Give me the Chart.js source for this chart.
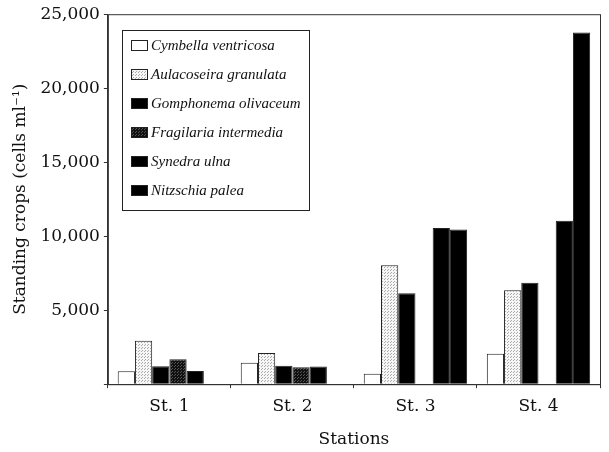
<!DOCTYPE html>
<html>
<head>
<meta charset="utf-8">
<script src="https://cdn.jsdelivr.net/npm/chart.js@4.4.0/dist/chart.umd.min.js"></script>
<style>
  html, body { margin: 0; padding: 0; background: #fff; }
  #wrap { width: 609px; height: 452px; }
</style>
</head>
<body>
<div id="wrap"><canvas id="myChart" width="609" height="452"></canvas></div>
<script>
const stations = ['St. 1', 'St. 2', 'St. 3', 'St. 4'];
const species = ['Cymbella ventricosa', 'Aulacoseira granulata', 'Gomphonema olivaceum',
    'Fragilaria intermedia', 'Synedra ulna', 'Nitzschia palea'];

const cymbella = [880, 1450, 700, 2050];
const aulacoseira = [2930, 2100, 8040, 6350];
const gomphonema = [1220, 1250, 6150, 6850];
const fragilaria = [1690, 1150, 0, 0];
const synedra = [900, 1200, 10550, 11050];
const nitzschia = [0, 0, 10450, 23760];

const yTicks = [5000, 10000, 15000, 20000, 25000];

const serif = '"DejaVu Serif", "Liberation Serif", serif';
const legendFont = 'italic 15px "Liberation Serif", serif';

// dotted fills like the printed halftone
function dots(bg, fg) {
    const c = document.createElement('canvas');
    c.width = 3; c.height = 3;
    const g = c.getContext('2d');
    g.fillStyle = bg;
    g.fillRect(0, 0, 3, 3);
    g.fillStyle = fg;
    g.fillRect(0, 0, 1, 1);
    g.fillRect(1, 2, 1, 1);
    return g.createPattern(c, 'repeat');
}

const fills = ['#ffffff', dots('#f6f6f6', '#aaa'), '#000000', dots('#111', '#555'), '#000000', '#000000'];
const series = [cymbella, aulacoseira, gomphonema, fragilaria, synedra, nitzschia];

const datasets = series.map((vals, i) => ({
    label: species[i],
    data: vals,
    backgroundColor: fills[i],
    borderColor: '#222',
    borderWidth: 1,
    barPercentage: 1.0,
    categoryPercentage: 0.84
}));

const frame = {
    id: 'frame',
    afterDraw(chart) {
        const a = chart.chartArea;
        const ctx = chart.ctx;
        ctx.save();
        ctx.strokeStyle = '#333';
        ctx.lineWidth = 1;
        ctx.strokeRect(a.left + 0.5, a.top + 0.5, a.right - a.left, a.bottom - a.top);

        // legend box inside the plot
        const lx = 122, ly = 30, lw = 187, lh = 180;
        ctx.fillStyle = '#fff';
        ctx.fillRect(lx, ly, lw, lh);
        ctx.strokeStyle = '#222';
        ctx.strokeRect(lx + 0.5, ly + 0.5, lw, lh);
        ctx.font = legendFont;
        ctx.textBaseline = 'middle';
        chart.data.datasets.forEach((ds, i) => {
            const y = 45 + i * 29;
            ctx.fillStyle = ds.backgroundColor;
            ctx.fillRect(131, y - 5, 16, 10);
            ctx.strokeStyle = '#222';
            ctx.strokeRect(131.5, y - 4.5, 16, 10);
            ctx.fillStyle = '#111';
            ctx.fillText(ds.label, 151, y + 1);
        });
        ctx.restore();
    }
};

const ctx = document.getElementById('myChart').getContext('2d');
const myChart = new Chart(ctx, { //eslint-disable-line
    type: 'bar',
    data: {
        labels: stations,
        datasets: datasets
    },
    options: {
        responsive: false,
        animation: false,
        layout: { padding: { top: 9, right: 9, left: 6, bottom: 0 } },
        plugins: {
            legend: { display: false },
            tooltip: { enabled: false }
        },
        scales: {
            x: {
                grid: { display: true, offset: true, drawOnChartArea: false, tickLength: 4, color: '#333' },
                border: { color: '#333' },
                ticks: { color: '#111', font: { family: serif, size: 17 }, padding: 8 },
                title: { display: true, text: 'Stations', color: '#111', font: { family: serif, size: 17 }, padding: { top: 5, bottom: 2 } }
            },
            y: {
                min: 0,
                max: 25000,
                afterBuildTicks(scale) {
                    scale.ticks = [{ value: 0 }].concat(yTicks.map(v => ({ value: v })));
                },
                grid: { display: true, drawOnChartArea: false, tickLength: 4, color: '#333' },
                border: { color: '#333' },
                ticks: {
                    color: '#111',
                    font: { family: serif, size: 17 },
                    padding: 4,
                    callback: v => v === 0 ? '' : v.toLocaleString('en-US')
                },
                title: { display: true, text: 'Standing crops (cells ml\u207B\u00B9)', color: '#111', font: { family: serif, size: 17 }, padding: { bottom: 6 } }
            }
        }
    },
    plugins: [frame]
});
</script>
</body>
</html>
